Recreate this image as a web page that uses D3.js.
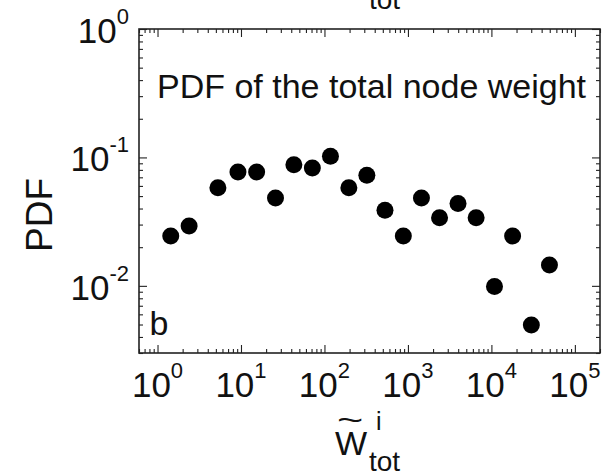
<!DOCTYPE html>
<html>
<head>
<meta charset="utf-8">
<script src="https://cdn.jsdelivr.net/npm/d3@7"></script>
<style>
  body { margin: 0; background: #fff; }
  svg { display: block; font-family: "Liberation Sans", Arial, sans-serif; }
  .frame { fill: none; stroke: #222; stroke-width: 1.6; }
  .tick line { stroke: #222; stroke-width: 1.1; }
  .domain { display: none; }
</style>
</head>
<body>
<svg width="606" height="475"></svg>
<script>
// PDF of the total node weight (log-binned)
const wBins = [1.44, 2.39, 5.29, 9.2, 15.4, 25.9, 43, 71.6, 118, 196, 322,
               531, 881, 1452, 2392, 3981, 6561, 10890, 17950, 30100, 49600];
const pdfValues = [0.0244, 0.0292, 0.058, 0.077, 0.077, 0.0484, 0.0878, 0.0828, 0.102, 0.058, 0.0725,
                   0.0388, 0.0244, 0.0484, 0.0339, 0.0437, 0.0339, 0.00988, 0.0244, 0.00496, 0.01455];
const xTickExps = [0, 1, 2, 3, 4, 5];
const yTickExps = [-2, -1, 0];

const svg = d3.select("svg");
const margin = {top: 29, left: 139, bottom: 122, right: 6};
const width = +svg.attr("width");
const height = +svg.attr("height");
const innerwidth = width - margin.left - margin.right;
const innerheight = height - margin.top - margin.bottom;

const xScale = d3.scaleLog().domain([0.6, 2e5]).range([0, innerwidth]);
const yScale = d3.scaleLog().domain([0.003, 1]).range([innerheight, 0]);

// major/minor tick values of a log axis
const logTicks = (scale, major) => {
    const [lo, hi] = scale.domain();
    const out = [];
    for (let e = Math.floor(Math.log10(lo)); e <= Math.ceil(Math.log10(hi)); e++) {
        for (let m = 1; m < 10; m++) {
            const v = m * Math.pow(10, e);
            if (v < lo * 0.999 || v > hi * 1.001) continue;
            if ((m === 1) === major) out.push(v);
        }
    }
    return out;
};

const g = svg.append("g")
    .attr("transform", `translate(${margin.left}, ${margin.top})`);

// ticks on all four sides, pointing inwards
const addAxis = (axisFn, scale, major, transform) => {
    const size = major ? 8 : 4;
    g.append("g")
        .attr("transform", transform)
        .call(axisFn(scale).tickValues(logTicks(scale, major))
            .tickSize(-size).tickFormat(""));
};
[true, false].forEach(major => {
    addAxis(d3.axisBottom, xScale, major, `translate(0, ${innerheight})`);
    addAxis(d3.axisTop, xScale, major, "translate(0, 0)");
    addAxis(d3.axisLeft, yScale, major, "translate(0, 0)");
    addAxis(d3.axisRight, yScale, major, `translate(${innerwidth}, 0)`);
});

g.append("rect")
    .attr("class", "frame")
    .attr("width", innerwidth)
    .attr("height", innerheight);

// tick labels 10^k
g.append("g").selectAll("text").data(xTickExps)
    .enter().append("text")
        .attr("x", d => xScale(Math.pow(10, d)))
        .attr("y", innerheight + 44)
        .attr("text-anchor", "middle")
        .attr("font-size", 35)
        .attr("fill", "#111")
        .each(function(d) {
            const t = d3.select(this);
            t.append("tspan").text("10");
            t.append("tspan").attr("font-size", 22).attr("dy", -19).text(d);
        });

g.append("g").selectAll("text").data(yTickExps)
    .enter().append("text")
        .attr("x", -10)
        .attr("y", d => yScale(Math.pow(10, d)) + 14)
        .attr("text-anchor", "end")
        .attr("font-size", 35)
        .attr("fill", "#111")
        .each(function(d) {
            const t = d3.select(this);
            t.append("tspan").text("10");
            t.append("tspan").attr("font-size", 22).attr("dy", -19).text(d);
        });

// data points
g.selectAll("circle").data(wBins)
    .enter().append("circle")
        .attr("cx", d => xScale(d))
        .attr("cy", (d, i) => yScale(pdfValues[i]))
        .attr("r", 8.5)
        .attr("fill", "#000");

// texts inside the axes
g.append("text")
    .attr("x", 18)
    .attr("y", 69)
    .attr("font-size", 34)
    .attr("fill", "#111")
    .text("PDF of the total node weight");

g.append("text")
    .attr("x", 10.5)
    .attr("y", 306)
    .attr("font-size", 34)
    .attr("fill", "#111")
    .text("b");

// y label
svg.append("text")
    .attr("transform", "translate(52, 215) rotate(-90)")
    .attr("text-anchor", "middle")
    .attr("font-size", 37)
    .attr("fill", "#111")
    .text("PDF");

// x label: W~ with subscript tot and superscript i
const xl = svg.append("g").attr("fill", "#111");
xl.append("text").attr("x", 335).attr("y", 455).attr("font-size", 34).text("W");
xl.append("text").attr("transform", "translate(337, 430) scale(1.5, 1)")
    .attr("font-size", 30).text("~");
xl.append("text").attr("x", 376).attr("y", 430).attr("font-size", 25).text("i");
xl.append("text").attr("x", 369).attr("y", 471).attr("font-size", 28).text("tot");

// subscript of the panel above, cut at the top edge
svg.append("text").attr("x", 369).attr("y", 9).attr("font-size", 28)
    .attr("fill", "#111").text("tot");
</script>
</body>
</html>
